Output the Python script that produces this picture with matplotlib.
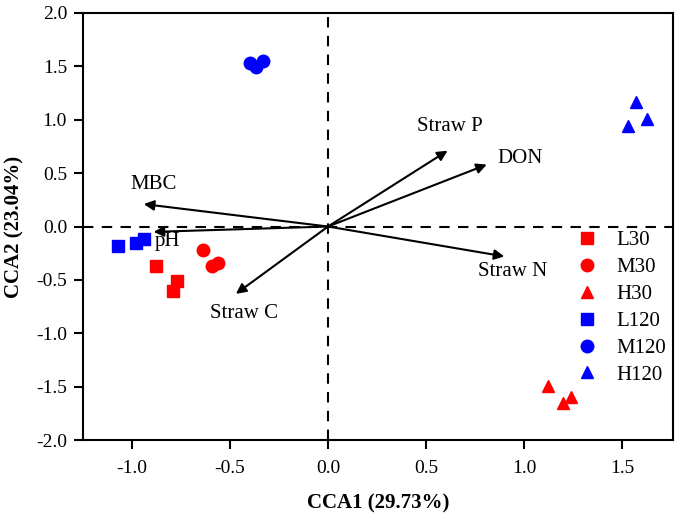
import matplotlib
matplotlib.use('Agg')
import matplotlib.pyplot as plt

plt.rcParams['font.family'] = ['Liberation Serif', 'DejaVu Serif']

# sample scores
groups = ['L30', 'M30', 'H30', 'L120', 'M120', 'H120']
colors = ['red', 'red', 'red', 'blue', 'blue', 'blue']
markers = ['s', 'o', '^', 's', 'o', '^']
cca1 = [
    [-0.88, -0.77, -0.79],
    [-0.64, -0.59, -0.56],
    [1.12, 1.20, 1.24],
    [-1.07, -0.98, -0.94],
    [-0.40, -0.37, -0.33],
    [1.57, 1.63, 1.53],
]
cca2 = [
    [-0.37, -0.51, -0.60],
    [-0.22, -0.37, -0.34],
    [-1.49, -1.65, -1.60],
    [-0.18, -0.15, -0.12],
    [1.53, 1.49, 1.55],
    [1.17, 1.01, 0.94],
]

# environmental vectors
env_names = ['MBC', 'pH', 'Straw P', 'DON', 'Straw N', 'Straw C']
env_x = [-0.94, -0.89, 0.61, 0.81, 0.90, -0.47]
env_y = [0.21, -0.05, 0.71, 0.58, -0.28, -0.63]
label_x = [-0.89, -0.82, 0.62, 0.98, 0.94, -0.43]
label_y = [0.39, -0.14, 0.94, 0.64, -0.42, -0.81]

fig = plt.figure(figsize=(6.75, 5.16), dpi=100)
ax = fig.add_axes([0.123, 0.147, 0.874, 0.828])

ax.axhline(0, color='black', ls=(0, (5, 4)), lw=1.5, zorder=1)
ax.axvline(0, color='black', ls=(0, (5, 4)), lw=1.5, zorder=1)

for g, c, m, xs, ys in zip(groups, colors, markers, cca1, cca2):
    ax.plot(xs, ys, ls='none', marker=m, color=c, markersize=9, label=g, zorder=3)

for name, ex, ey, lx, ly in zip(env_names, env_x, env_y, label_x, label_y):
    ax.annotate('', xy=(ex, ey), xytext=(0, 0),
                arrowprops=dict(arrowstyle='-|>', color='black', lw=1.5,
                                mutation_scale=15, shrinkA=0, shrinkB=0),
                zorder=2)
    ax.text(lx, ly, name, fontsize=15, ha='center', va='center')

ax.set_xlim(-1.25, 1.76)
ax.set_ylim(-2.0, 2.0)
ax.set_xticks([-1.0, -0.5, 0.0, 0.5, 1.0, 1.5])
ax.set_yticks([-2.0, -1.5, -1.0, -0.5, 0.0, 0.5, 1.0, 1.5, 2.0])
ax.xaxis.set_major_formatter(matplotlib.ticker.FormatStrFormatter('%.1f'))
ax.yaxis.set_major_formatter(matplotlib.ticker.FormatStrFormatter('%.1f'))
ax.tick_params(direction='out', length=6.5, width=1.5, labelsize=14, pad=5)
ax.tick_params(axis='x', pad=8)
for s in ax.spines.values():
    s.set_linewidth(1.5)

ax.set_xlabel('CCA1 (29.73%)', fontsize=15, fontweight='bold', labelpad=12)
ax.set_ylabel('CCA2 (23.04%)', fontsize=15, fontweight='bold', labelpad=8)

ax.legend(loc='upper left', bbox_to_anchor=(0.833, 0.49), frameon=False,
          fontsize=15, handletextpad=0.8, labelspacing=0.35, handlelength=1.2,
          borderaxespad=0, borderpad=0)

fig.savefig('out.png', dpi=100)
